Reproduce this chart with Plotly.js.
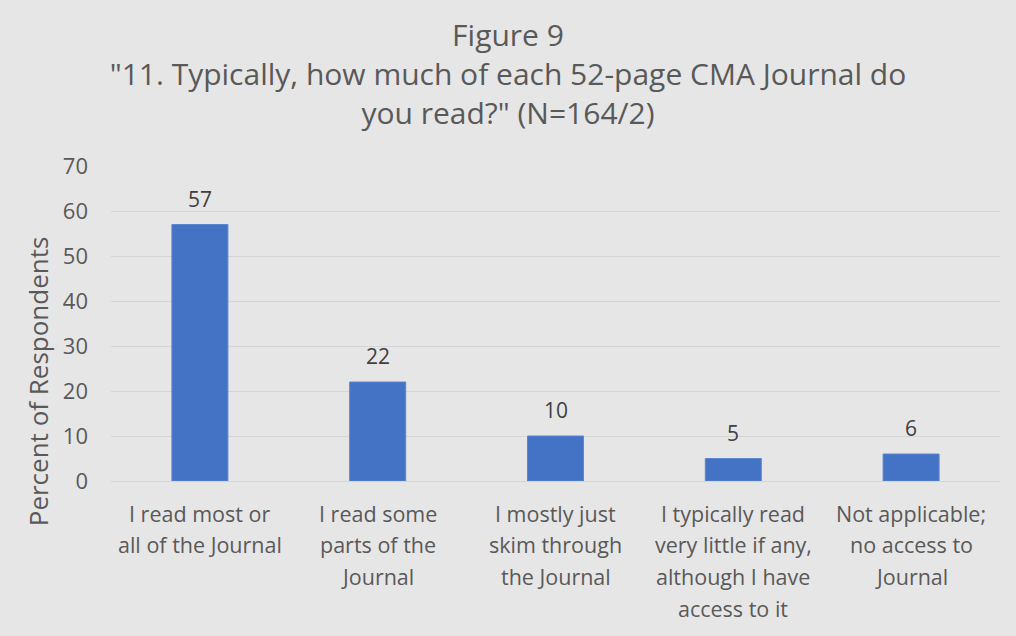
<!DOCTYPE html>
<html><head><meta charset="utf-8">
<script src="https://cdn.plot.ly/plotly-3.0.1.min.js"></script>
<style>html,body{margin:0;padding:0;background:#e7e6e6;}#chart{width:1016px;height:636px;}</style>
</head><body><div id="chart"></div>
<script>
const categories = [
  "I read most or<br>all of the Journal",
  "I read some<br>parts of the<br>Journal",
  "I mostly just<br>skim through<br>the Journal",
  "I typically read<br>very little if any,<br>although I have<br>access to it",
  "Not applicable;<br>no access to<br>Journal"
];
const values = [57, 22, 10, 5, 6];
const yTicks = [0, 10, 20, 30, 40, 50, 60, 70];
const titleText = 'Figure 9<br>"11. Typically, how much of each 52-page CMA Journal do<br>you read?" (N=164/2)';
const yTitle = 'Percent of Respondents';
const FONT = "'Open Sans', sans-serif";
const xIdx = categories.map((c, i) => i);

const trace = {
  type: 'bar', x: xIdx, y: values,
  marker: {color: '#4472c4', line: {color: '#5b86d0', width: 1}},
  hoverinfo: 'none'
};
const labelAnns = values.map((v, i) => ({
  x: xIdx[i], y: v, xref: 'x', yref: 'y', text: String(v), showarrow: false,
  xanchor: 'center', yanchor: 'middle', yshift: 26,
  font: {family: FONT, size: 21, color: '#404040'}
}));
// category labels, one annotation per wrapped line (Excel-like line spacing)
const catAnns = [];
categories.forEach((c, i) => {
  c.split('<br>').forEach((line, k) => {
    catAnns.push({x: xIdx[i], y: 0, xref: 'x', yref: 'paper', text: line, showarrow: false,
      xanchor: 'center', yanchor: 'middle', yshift: -(32 + 31.7 * k),
      font: {family: FONT, size: 21.5, color: '#595959'}});
  });
});
const layout = {
  width: 1016, height: 636,
  paper_bgcolor: '#e7e6e6', plot_bgcolor: '#e7e6e6',
  margin: {l: 111, r: 16, t: 166, b: 155},
  bargap: 0.685,
  showlegend: false,
  title: {text: titleText,
    font: {family: FONT, size: 30, color: '#595959'}, x: 0.5, xanchor: 'center', y: 0.927, yanchor: 'middle'},
  xaxis: {tickvals: xIdx, ticktext: xIdx.map(() => ''), range: [-0.5, 4.5],
    showgrid: false, zeroline: false, showline: false, ticks: ''},
  yaxis: {range: [0, 70], tickvals: yTicks, showgrid: true, gridcolor: '#d5d5d5', gridwidth: 1,
    zeroline: true, zerolinecolor: '#d5d5d5', zerolinewidth: 1, showline: false, ticks: '',
    ticklabelstandoff: 22,
    tickfont: {family: FONT, size: 22, color: '#595959'}},
  annotations: labelAnns.concat(catAnns, [{text: yTitle, xref: 'paper', yref: 'paper', x: -0.082, y: 0.317,
    xanchor: 'center', yanchor: 'middle', textangle: -90, showarrow: false,
    font: {family: FONT, size: 26, color: '#595959'}}])
};
Plotly.newPlot('chart', [trace], layout, {displayModeBar: false, staticPlot: true});
</script></body></html>
